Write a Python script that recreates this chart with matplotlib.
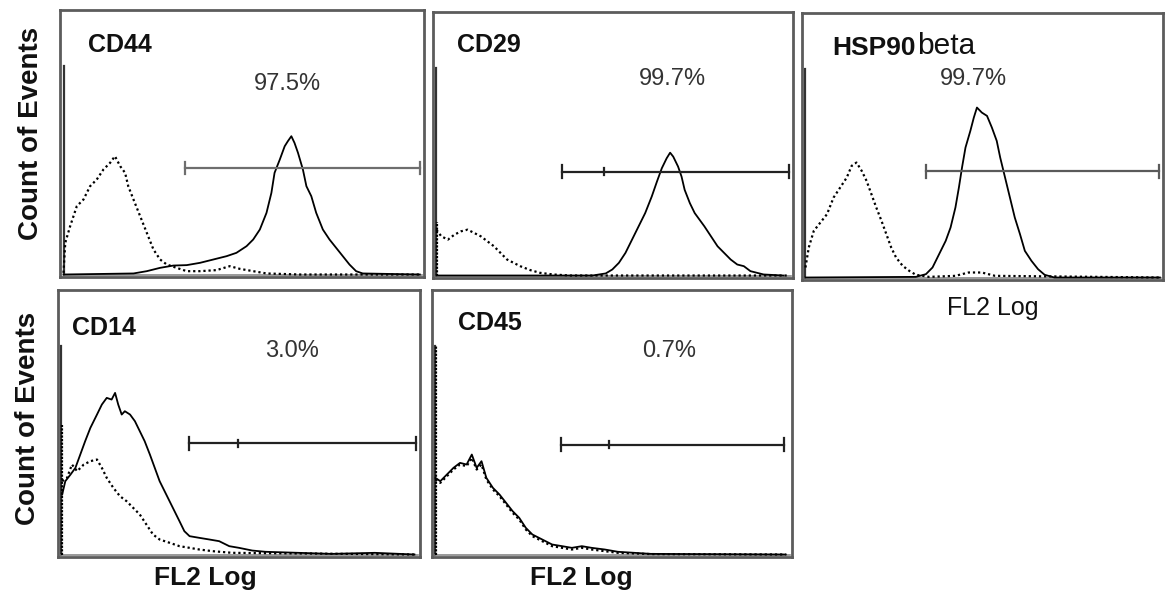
import matplotlib
matplotlib.use("Agg")
import matplotlib.pyplot as plt

plt.rcParams['font.family'] = ['Liberation Sans', 'DejaVu Sans']

# ---------------- data (FL2 log channel, count) ----------------
markers = ["CD44", "CD29", "HSP90", "CD14", "CD45"]
percents = ["97.5%", "99.7%", "99.7%", "3.0%", "0.7%"]

# CD44
cd44_ctrl_x = [0, 5, 19, 38, 57, 76, 95, 114, 133, 147, 162, 176, 185, 200, 219, 238, 257, 276, 295, 323, 352, 390, 437, 475, 504, 542, 580, 675, 1018]
cd44_ctrl_y = [0.8, 15.2, 23.2, 32.8, 36, 42.4, 45.6, 50.4, 53.6, 56.8, 52, 48.8, 42.4, 36, 28, 20, 12, 7.2, 4.8, 3.2, 1.6, 1.6, 2.1, 4, 2.7, 1.6, 0.5, 0, 0]
cd44_stain_x = [0, 200, 238, 276, 314, 352, 390, 428, 466, 494, 523, 542, 561, 580, 594, 603, 618, 632, 641, 651, 660, 670, 684, 694, 708, 722, 741, 760, 779, 798, 817, 836, 855, 1018]
cd44_stain_y = [0, 0.5, 1.6, 3.2, 4.3, 4.5, 5.6, 7.2, 8.8, 10.4, 13.6, 16.8, 21.6, 29.6, 39.2, 48.8, 55.2, 61.6, 64, 66.4, 63.2, 58.4, 50.4, 42.4, 37.6, 29.6, 21.6, 16.8, 12.8, 8.8, 4.8, 1.6, 0.5, 0]

# CD29
cd29_ctrl_x = [0, 14, 33, 52, 71, 90, 109, 128, 147, 166, 185, 204, 223, 242, 271, 299, 337, 385, 1012]
cd29_ctrl_y = [22, 18.9, 17.3, 19.7, 21.3, 22.1, 20.5, 18.9, 16.5, 14.1, 10.9, 7.7, 6.1, 4.5, 2.6, 1.3, 0.5, 0, 0]
cd29_stain_x = [0, 451, 489, 508, 527, 546, 565, 584, 603, 622, 637, 651, 665, 675, 684, 698, 708, 717, 732, 746, 760, 774, 793, 812, 831, 850, 869, 888, 907, 926, 945, 1002]
cd29_stain_y = [0, 0, 1, 2.9, 6.1, 10.9, 17.3, 23.7, 30.1, 38.1, 45.3, 51.7, 56.5, 59.2, 57.3, 52.5, 47.7, 41.3, 34.9, 30.1, 26.9, 23.7, 18.9, 14.1, 10.9, 7.7, 5.3, 4.5, 2.1, 1.3, 0.5, 0]

# HSP90beta
hsp_ctrl_x = [0, 9.5, 24, 43, 62, 81, 100, 119, 133, 147, 162, 176, 190, 204, 219, 233, 247, 261, 280, 299, 318, 356, 432, 470, 508, 546, 1021]
hsp_ctrl_y = [4.8, 14.4, 22.4, 26.4, 30.4, 38.4, 43.2, 48, 53.6, 55.2, 51.2, 46.4, 40, 33.6, 27.2, 20.8, 14.4, 9.6, 5.6, 3.2, 1.3, 0.3, 0.8, 2.4, 2.4, 0.8, 0]
hsp_stain_x = [0, 318, 347, 366, 385, 404, 418, 432, 442, 451, 461, 475, 485, 494, 508, 523, 537, 551, 561, 575, 589, 603, 618, 632, 651, 670, 689, 717, 1021]
hsp_stain_y = [0, 0.3, 1.6, 4.8, 11.2, 17.6, 24, 33.6, 43.2, 52.8, 62.4, 70.4, 76.8, 81.6, 79.2, 77.6, 72, 65.6, 57.6, 48, 38.4, 28.8, 20.8, 12.8, 8, 4, 1.3, 0, 0]

# CD14
cd14_ctrl_x = [2, 16, 30, 45, 64, 83, 102, 116, 130, 149, 168, 187, 206, 225, 244, 263, 282, 311, 339, 368, 396, 434, 491, 1014]
cd14_ctrl_y = [35.2, 36.8, 43.2, 40, 43.2, 44.8, 45.6, 41.6, 36.8, 32, 28, 25.6, 22.4, 19.2, 14.4, 9.6, 7.2, 5.6, 4, 3.2, 2.4, 1.6, 0.8, 0]
cd14_stain_x = [2, 11, 26, 40, 54, 68, 83, 102, 116, 130, 144, 154, 163, 173, 182, 197, 211, 225, 239, 254, 268, 282, 301, 320, 339, 353, 368, 396, 425, 453, 482, 510, 548, 586, 681, 776, 900, 1014]
cd14_stain_y = [28.8, 35.2, 38.4, 41.6, 48, 54.4, 60.8, 67.2, 72, 75.2, 74.4, 77.6, 72, 67.2, 68.8, 67.2, 64, 59.2, 54.4, 48, 41.6, 35.2, 28.8, 22.4, 16, 11.2, 8.8, 8, 7.2, 6.4, 4, 3.2, 1.9, 1.3, 0.8, 0.3, 0.8, 0]

# CD45
cd45_ctrl_x = [0, 14, 33, 52, 71, 90, 105, 119, 133, 147, 166, 185, 204, 223, 242, 261, 280, 299, 318, 337, 366, 394, 423, 451, 489, 527, 575, 622, 1012]
cd45_ctrl_y = [36, 34.4, 37.6, 40.8, 43.2, 42.4, 46.4, 40.8, 43.2, 36, 31.2, 28, 24, 20, 16.8, 12, 8.8, 7.2, 5.6, 4, 3.2, 2.4, 3.2, 2.4, 1.6, 0.8, 0.5, 0.2, 0]
cd45_stain_x = [0, 14, 33, 52, 71, 90, 105, 119, 133, 147, 166, 185, 204, 223, 242, 261, 280, 299, 318, 337, 366, 394, 423, 451, 489, 527, 575, 622, 1012]
cd45_stain_y = [36.8, 35.2, 38.4, 41.6, 44, 43.2, 48, 41.6, 44.8, 36.8, 32, 28.8, 24.8, 20.8, 17.6, 12.8, 9.6, 8, 6.4, 4.8, 4, 3.2, 4, 3.2, 2.4, 1.3, 0.8, 0.3, 0]

# marker gates: (start channel, end channel, count level, mid tick or None)
gate_start = [347, 364, 347, 366, 364]
gate_end = [1018, 1017, 1019, 1018, 1007]
gate_level = [51.2, 50.1, 50.9, 53.3, 52.8]
gate_mid = [None, 485, None, 508, 502]
# left-edge pile-up spikes of the control (count height at channel 0)
ctrl_spike = [0, 26, 0, 62, 100]

ctrl_x = [cd44_ctrl_x, cd29_ctrl_x, hsp_ctrl_x, cd14_ctrl_x, cd45_ctrl_x]
ctrl_y = [cd44_ctrl_y, cd29_ctrl_y, hsp_ctrl_y, cd14_ctrl_y, cd45_ctrl_y]
stain_x = [cd44_stain_x, cd29_stain_x, hsp_stain_x, cd14_stain_x, cd45_stain_x]
stain_y = [cd44_stain_y, cd29_stain_y, hsp_stain_y, cd14_stain_y, cd45_stain_y]

# ---------------- layout ----------------
W, H = 1165, 597
fig = plt.figure(figsize=(W / 100, H / 100), dpi=100)
boxes = [(60, 10, 424, 277), (433, 12, 793, 278), (802, 13, 1163, 280),
         (58, 290, 420, 557), (432, 290, 792, 557)]
label_pos = [(0.077, 0.843), (0.067, 0.850), (0.083, 0.843), (0.039, 0.831), (0.072, 0.850)]
pct_pos = [(0.626, 0.700), (0.664, 0.726), (0.476, 0.730), (0.646, 0.749), (0.658, 0.749)]
gate_colors = ['#6e6e6e', '#222222', '#5a5a5a', '#222222', '#222222']
label_sizes = [18, 18, 19, 18, 18]

axes = []
for i, (x0, y0, x1, y1) in enumerate(boxes):
    ax = fig.add_axes([x0 / W, (H - y1) / H, (x1 - x0) / W, (y1 - y0) / H])
    axes.append(ax)
    ax.set_xlim(-10, 1030)
    ax.set_ylim(-1.2, 127)
    ax.set_xticks([])
    ax.set_yticks([])
    for s in ax.spines.values():
        s.set_color('#5c5c5c')
        s.set_linewidth(2.0)
    # inner axis lines
    ax.plot([0, 0], [0, 100], color='#333333', lw=1.6)
    ax.plot([0, 1023], [0, 0], color='#888888', lw=1.2)
    # histograms
    ax.plot(ctrl_x[i], ctrl_y[i], color='black', lw=1.6, ls=(0, (1, 1.3)))
    ax.plot(stain_x[i], stain_y[i], color='black', lw=1.3)
    if ctrl_spike[i] > 0:
        ax.plot([0.5, 0.5], [0, ctrl_spike[i]], color='black', lw=1.6, ls=(0, (1, 0.6)))
    # gate
    gc = gate_colors[i]
    ax.plot([gate_start[i], gate_end[i]], [gate_level[i], gate_level[i]], color=gc, lw=1.6)
    ax.plot([gate_start[i], gate_start[i]], [gate_level[i] - 3, gate_level[i] + 3], color=gc, lw=1.6)
    ax.plot([gate_end[i], gate_end[i]], [gate_level[i] - 3, gate_level[i] + 3], color=gc, lw=1.6)
    if gate_mid[i] is not None:
        ax.plot([gate_mid[i], gate_mid[i]], [gate_level[i] - 1.5, gate_level[i] + 1.5], color=gc, lw=1.6)
    # labels
    t = ax.text(label_pos[i][0], label_pos[i][1], markers[i], transform=ax.transAxes,
                fontsize=label_sizes[i], fontweight='bold', ha='left', va='baseline', color='#111111')
    if markers[i] == "HSP90":
        ax.annotate("beta", xy=(1, 0), xycoords=t, xytext=(1, 0), textcoords='offset points',
                    fontsize=21.5, ha='left', va='bottom', color='#111111')
    ax.text(pct_pos[i][0], pct_pos[i][1], percents[i], transform=ax.transAxes,
            fontsize=17, ha='center', va='baseline', color='#333333')

# axis titles
fig.text(31 / W, 1 - 133 / H, "Count of Events", rotation=90, fontsize=20,
         fontweight='bold', ha='center', va='center', color='#111111')
fig.text(28 / W, 1 - 418 / H, "Count of Events", rotation=90, fontsize=20,
         fontweight='bold', ha='center', va='center', color='#111111')
fig.text(993 / W, 1 - 315 / H, "FL2 Log", fontsize=18, ha='center', va='baseline', color='#111111')
fig.text(205 / W, 1 - 585 / H, "FL2 Log", fontsize=19, fontweight='bold', ha='center', va='baseline', color='#111111')
fig.text(581 / W, 1 - 585 / H, "FL2 Log", fontsize=19, fontweight='bold', ha='center', va='baseline', color='#111111')

fig.savefig("out.png", dpi=100, facecolor='white')
